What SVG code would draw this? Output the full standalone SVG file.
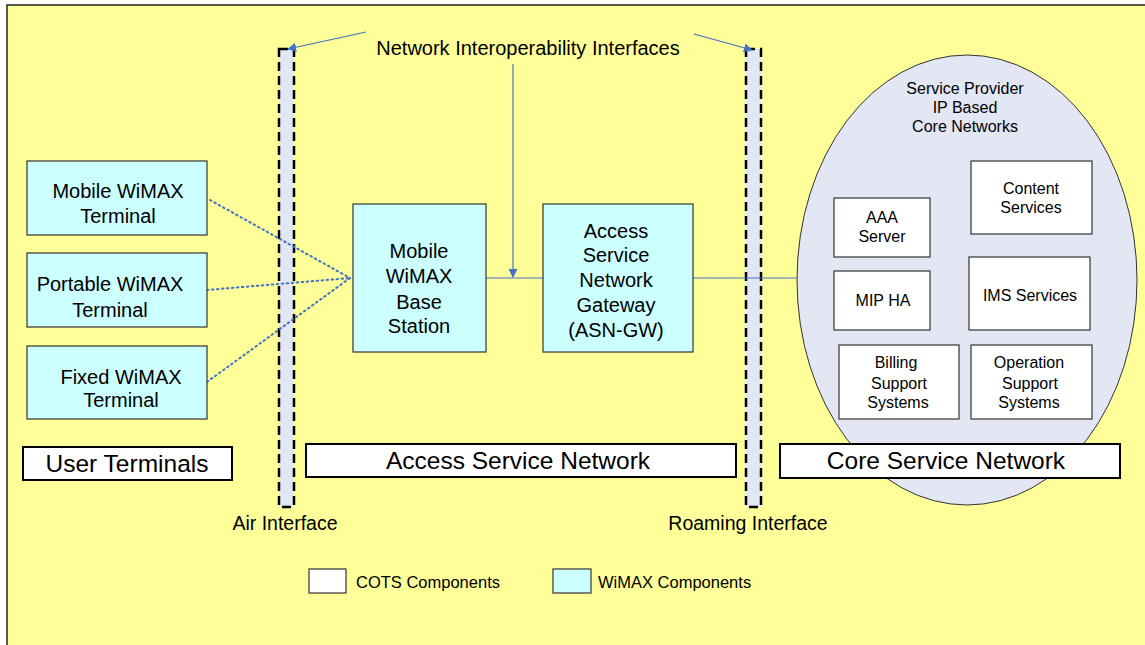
<svg xmlns="http://www.w3.org/2000/svg" width="1145" height="645" viewBox="0 0 1145 645">
<defs>
<marker id="ah" viewBox="0 0 10 10" refX="9" refY="5" markerWidth="9" markerHeight="9" orient="auto" markerUnits="userSpaceOnUse"><path d="M0,0 L10,5 L0,10 z" fill="#4472C4"/></marker>
<style>
text{font-family:"Liberation Sans",Arial,sans-serif;fill:#000;text-anchor:middle}
.wx{fill:#CCFFFF;stroke:#333;stroke-width:1.2}
.cots{fill:#FFFFFF;stroke:#333;stroke-width:1.2}
.lbl{fill:#FFFFFF;stroke:#000;stroke-width:2}
.bar{fill:#E3E6F3;stroke:#000;stroke-width:2.5;stroke-dasharray:9,5}
.t18{font-size:20px}
.t14{font-size:16px}
.t22{font-size:24.5px}
.t17{font-size:19.5px}
.t15{font-size:16.5px}
.c{fill:none;stroke:#4472C4;stroke-width:1.2}
.dot{fill:none;stroke:#4472C4;stroke-width:2;stroke-dasharray:1.5,3.5;stroke-linecap:round}
</style>
</defs>
<rect x="7" y="5" width="1150" height="650" fill="#FFFF99" stroke="#222" stroke-width="1.5"/>
<g id="core-cloud">
<ellipse cx="967" cy="280" rx="170" ry="225" fill="#E3E6F3" stroke="#333" stroke-width="1"/>
<text class="t14" x="965" y="94">Service Provider</text>
<text class="t14" x="965" y="113">IP Based</text>
<text class="t14" x="965" y="132">Core Networks</text>
</g>
<g id="air-interface">
<rect class="bar" x="279" y="49" width="15" height="458"/>
<text class="t17" x="285" y="530">Air Interface</text>
</g>
<g id="roaming-interface">
<rect class="bar" x="746" y="49" width="15" height="458"/>
<text class="t17" x="748" y="530">Roaming Interface</text>
</g>
<g id="connectors">
<line class="dot" x1="210" y1="200" x2="350" y2="278"/>
<line class="dot" x1="207" y1="290" x2="350" y2="278"/>
<line class="dot" x1="207" y1="382" x2="350" y2="278"/>
<line class="c" x1="486" y1="278" x2="543" y2="278"/>
<line class="c" x1="693" y1="278" x2="797" y2="278"/>
<line class="c" x1="513" y1="64" x2="513" y2="277" marker-end="url(#ah)"/>
<line class="c" x1="366" y1="32" x2="288" y2="49" marker-end="url(#ah)"/>
<line class="c" x1="694" y1="34" x2="752" y2="50" marker-end="url(#ah)"/>
</g>
<g id="nii-label"><text class="t18" x="528" y="55">Network Interoperability Interfaces</text></g>
<g id="mobile-terminal">
<rect class="wx" x="27" y="161" width="180" height="74"/>
<text class="t18" x="118" y="198">Mobile WiMAX</text>
<text class="t18" x="118" y="223">Terminal</text>
</g>
<g id="portable-terminal">
<rect class="wx" x="27" y="253" width="180" height="74"/>
<text class="t18" x="110" y="291">Portable WiMAX</text>
<text class="t18" x="110" y="317">Terminal</text>
</g>
<g id="fixed-terminal">
<rect class="wx" x="27" y="346" width="180" height="73"/>
<text class="t18" x="121" y="384">Fixed WiMAX</text>
<text class="t18" x="121" y="407">Terminal</text>
</g>
<g id="base-station">
<rect class="wx" x="353" y="204" width="133" height="148"/>
<text class="t18" x="419" y="258">Mobile</text>
<text class="t18" x="419" y="283">WiMAX</text>
<text class="t18" x="419" y="309">Base</text>
<text class="t18" x="419" y="333">Station</text>
</g>
<g id="asn-gw">
<rect class="wx" x="543" y="204" width="150" height="148"/>
<text class="t18" x="616" y="238">Access</text>
<text class="t18" x="616" y="262">Service</text>
<text class="t18" x="616" y="287">Network</text>
<text class="t18" x="616" y="312">Gateway</text>
<text class="t18" x="616" y="337">(ASN-GW)</text>
</g>
<g id="content-services">
<rect class="cots" x="971" y="161" width="121" height="73"/>
<text class="t14" x="1031" y="194">Content</text>
<text class="t14" x="1031" y="213">Services</text>
</g>
<g id="aaa-server">
<rect class="cots" x="834" y="198" width="96" height="59"/>
<text class="t14" x="882" y="223">AAA</text>
<text class="t14" x="882" y="242">Server</text>
</g>
<g id="mip-ha">
<rect class="cots" x="834" y="271" width="96" height="59"/>
<text class="t14" x="883" y="306">MIP HA</text>
</g>
<g id="ims-services">
<rect class="cots" x="969" y="257" width="121" height="73"/>
<text class="t14" x="1030" y="301">IMS Services</text>
</g>
<g id="billing">
<rect class="cots" x="839" y="345" width="120" height="74"/>
<text class="t14" x="896" y="368">Billing</text>
<text class="t14" x="899" y="389">Support</text>
<text class="t14" x="898" y="408">Systems</text>
</g>
<g id="operation">
<rect class="cots" x="971" y="345" width="121" height="74"/>
<text class="t14" x="1029" y="368">Operation</text>
<text class="t14" x="1030" y="389">Support</text>
<text class="t14" x="1029" y="408">Systems</text>
</g>
<g id="user-terminals-label">
<rect class="lbl" x="23" y="447" width="209" height="33"/>
<text class="t22" x="127" y="472">User Terminals</text>
</g>
<g id="asn-label">
<rect class="lbl" x="306" y="444" width="430" height="33"/>
<text class="t22" x="518" y="469">Access Service Network</text>
</g>
<g id="csn-label">
<rect class="lbl" x="780" y="444" width="340" height="34"/>
<text class="t22" x="946" y="469">Core Service Network</text>
</g>
<g id="legend">
<rect class="cots" x="309" y="569" width="37" height="24"/>
<text class="t15" x="356" y="588" style="text-anchor:start">COTS Components</text>
<rect class="wx" x="553" y="569" width="38" height="24"/>
<text class="t15" x="598" y="588" style="text-anchor:start">WiMAX Components</text>
</g>
</svg>
